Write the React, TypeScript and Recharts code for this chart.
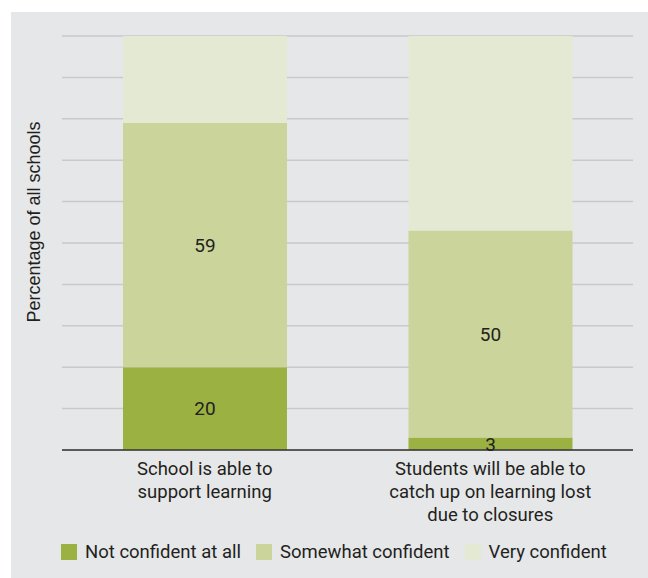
import React from "react";
import { BarChart, Bar, XAxis, YAxis, CartesianGrid, LabelList } from "recharts";

const categories = ["School is able to support learning", "Students will be able to catch up on learning lost due to closures"];
const categoryLines = [
  ["School is able to", "support learning"],
  ["Students will be able to", "catch up on learning lost", "due to closures"],
];
const notConfident = [20, 3];
const somewhatConfident = [59, 50];
const veryConfident = [21, 47];
const gridValues = [0, 10, 20, 30, 40, 50, 60, 70, 80, 90, 100];

const SERIES = [
  { key: "not", name: "Not confident at all", color: "#9bb242", showLabel: true },
  { key: "some", name: "Somewhat confident", color: "#cad49b", showLabel: true },
  { key: "very", name: "Very confident", color: "#e4e9d4", showLabel: false },
];

const FONT = "Roboto, 'Noto Sans', sans-serif";
const TEXT = "#231f20";

const data = categories.map((c, i) => ({
  category: c,
  not: notConfident[i],
  some: somewhatConfident[i],
  very: veryConfident[i],
}));

function CategoryTick(props: any) {
  const { x, y, payload } = props;
  const lines = categoryLines[payload.index] ?? [payload.value];
  return (
    <text x={x} y={y} textAnchor="middle" fill={TEXT} fontSize={18.5} fontFamily={FONT}>
      {lines.map((l, i) => (
        <tspan key={i} x={x} dy={i === 0 ? 17 : 23}>
          {l}
        </tspan>
      ))}
    </text>
  );
}

const NoTick = () => <g />;

export default function App() {
  return (
    <div style={{ position: "absolute", left: 0, top: 0, width: 648, height: 578, background: "#fff" }}>
      <div style={{ position: "absolute", left: 11, top: 12, width: 637, height: 566, background: "#e6e7e9" }} />
      <div style={{ position: "absolute", left: 0, top: 0 }}>
        <BarChart
          width={648}
          height={578}
          data={data}
          margin={{ top: 36, right: 15, bottom: 98, left: 0 }}
          barCategoryGap={0}
          barSize={164}
        >
          <CartesianGrid vertical={false} stroke="#c9c9cb" strokeWidth={1.5} />
          <YAxis
            type="number"
            domain={[0, 100]}
            ticks={gridValues}
            width={62}
            axisLine={false}
            tickLine={false}
            tick={<NoTick />}
            label={{
              value: "Percentage of all schools",
              angle: -90,
              position: "center",
              dx: 3,
              dy: -21,
              fill: TEXT,
              fontSize: 18,
              fontFamily: "'Liberation Sans', Arial, sans-serif",
            }}
          />
          <XAxis
            dataKey="category"
            height={30}
            axisLine={{ stroke: "#333", strokeWidth: 1.5 }}
            tickLine={false}
            interval={0}
            tick={<CategoryTick />}
          />
          {SERIES.map((s) => (
            <Bar key={s.key} dataKey={s.key} stackId="a" fill={s.color} isAnimationActive={false}>
              {s.showLabel && (
                <LabelList dataKey={s.key} position="center" fill={TEXT} fontSize={19} fontFamily={FONT} />
              )}
            </Bar>
          ))}
        </BarChart>
      </div>
      <div
        style={{
          position: "absolute",
          left: 61,
          top: 541,
          display: "flex",
          alignItems: "center",
          fontFamily: FONT,
          fontSize: 18.5,
          color: TEXT,
        }}
      >
        {SERIES.map((s) => (
          <span key={s.key} style={{ display: "flex", alignItems: "center", marginRight: 15 }}>
            <span style={{ display: "inline-block", width: 16, height: 16, background: s.color, marginRight: 8 }} />
            {s.name}
          </span>
        ))}
      </div>
    </div>
  );
}
